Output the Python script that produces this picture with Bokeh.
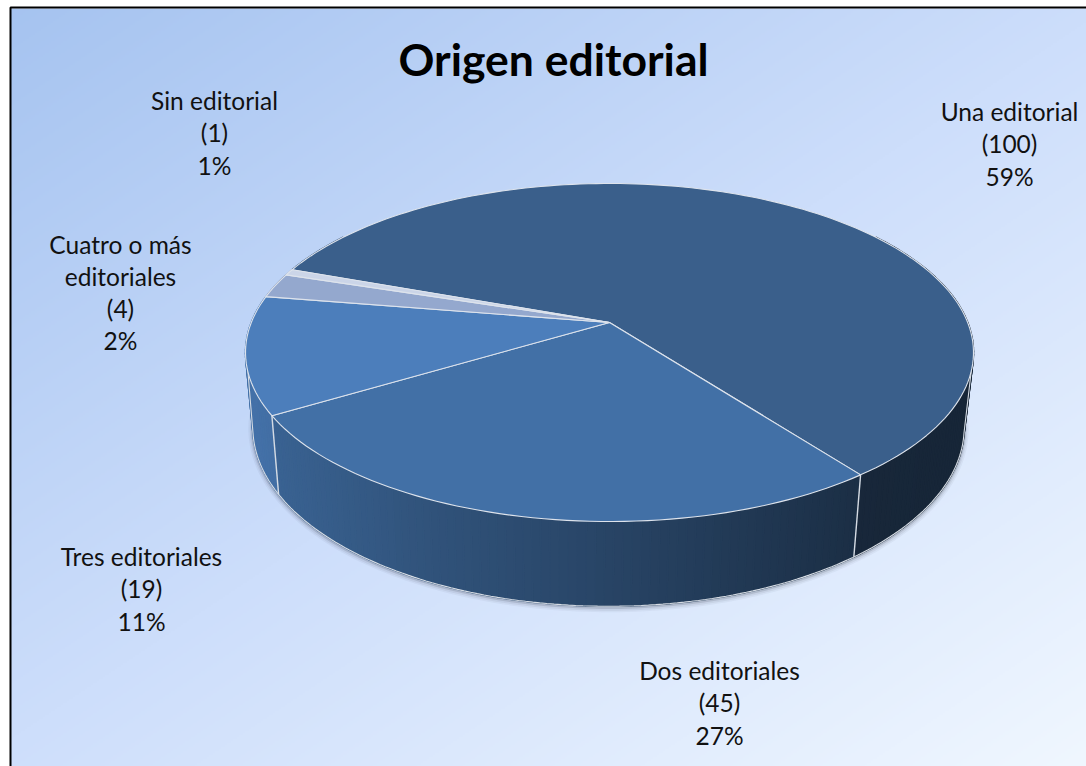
import numpy as np
from bokeh.plotting import figure
from bokeh.models import ColumnDataSource, Range1d
from bokeh.core.properties import value
from bokeh.embed import file_html
from bokeh.resources import INLINE

categories = ["Una editorial", "Dos editoriales", "Tres editoriales", "Cuatro o más editoriales", "Sin editorial"]
counts = [100, 45, 19, 4, 1]
percents = [59, 27, 11, 2, 1]
title_text = "Origen editorial"
label_lines = [["Una editorial"], ["Dos editoriales"], ["Tres editoriales"], ["Cuatro o más", "editoriales"], ["Sin editorial"]]

top_colors = ["#3A5F8B", "#4270A6", "#4C7EBB", "#94A8CE", "#CBD5E8"]

# layout, in page pixels
PAGE_W, PAGE_H = 1086, 766
label_cx = [1009, 719, 141, 120, 214]
label_y0 = [111, 670, 556, 243.5, 100]
LINE = 32.3
START = -70.0

def Y(py):
    return PAGE_H - np.asarray(py, dtype=float)

def project(theta, plane):
    X0, Y0, a, b, k = plane
    t = np.radians(theta)
    u, v = np.sin(t), np.cos(t)
    w = 1 + k * v
    return X0 + a * u / w, Y0 - b * v / w

top_plane = (609.0, 322.0, 358.2, 163.7, 0.1775)
bot_plane = (608.0, 395.4, 350.0, 173.0, 0.1775)

p = figure(width=PAGE_W, height=PAGE_H, output_backend="svg", toolbar_location=None,
           x_range=Range1d(0, PAGE_W), y_range=Range1d(0, PAGE_H),
           min_border=0, outline_line_color=None, background_fill_color="white",
           border_fill_color="white")
p.axis.visible = False
p.grid.visible = False

# background gradient
xs = np.arange(10, PAGE_W, 2) + 1.0
ys = np.arange(PAGE_H, 8, -2) - 1.0
gx, gy = np.meshgrid(xs, ys)
t = (gx + 1.5 * gy) / 2235.0
stops_t = [0, 0.5, 1]
stops = [(0xA5, 0xC3, 0xF0), (0xCD, 0xDE, 0xFB), (0xF0, 0xF7, 0xFF)]
r = np.interp(t, stops_t, [s[0] for s in stops])
g = np.interp(t, stops_t, [s[1] for s in stops])
b = np.interp(t, stops_t, [s[2] for s in stops])
img = (255 << 24 | b.astype(np.uint32) << 16 | g.astype(np.uint32) << 8 | r.astype(np.uint32)).astype(np.uint32)
p.image_rgba(image=[img], x=10, y=Y(PAGE_H), dw=PAGE_W - 10, dh=PAGE_H - 8)

# frame
p.line([10, 10, PAGE_W], list(Y([PAGE_H, 7, 7])), line_color="black", line_width=2)

# slice angles from the counts
total = sum(counts)
bounds = START + 360.0 * np.concatenate([[0], np.cumsum(counts)]) / total

def shade(hexcol, f):
    c = [int(hexcol[i:i + 2], 16) for i in (1, 3, 5)]
    return "#%02x%02x%02x" % tuple(int(min(255, x * f)) for x in c)

# soft shadow under the wall
sa = np.linspace(88, 268, 160)
sx, sy = project(sa, bot_plane)
for w, al, off in [(9, 0.05, 1.5), (6, 0.08, 1.5), (3.5, 0.16, 1)]:
    p.line(sx, Y(sy + off), line_color="#3a4048", line_alpha=al, line_width=w)

# wall pieces, every slice split into thin strips
wx, wy, wc = [], [], []
for i in range(len(counts)):
    lo, hi = bounds[i], bounds[i + 1]
    for m in (0, 360, -360):
        a0, a1 = max(lo + m, 55), min(hi + m, 305)
        if a1 <= a0:
            continue
        n = max(2, int((a1 - a0) / 1.2) + 1)
        edges = np.linspace(a0, a1, n)
        for e0, e1 in zip(edges[:-1], edges[1:]):
            aa = np.array([e0, e1])
            tx, ty = project(aa, top_plane)
            bx, by = project(aa[::-1], bot_plane)
            xm = tx.mean()
            f = np.interp(xm, [250, 430, 600, 860, 980], [0.90, 0.74, 0.62, 0.42, 0.40])
            col = shade(top_colors[i], f)
            wx.append(list(np.r_[tx, bx]))
            wy.append(list(Y(np.r_[ty, by])))
            wc.append(col)
p.patches(wx, wy, fill_color=wc, line_color=wc, line_width=1.6)

# bottom edge, silhouette edges and wall seams
ea = np.linspace(102, 258, 160)
ex, ey = project(ea, bot_plane)
sil_tx0, sil_ty0 = project(np.array([100.0]), top_plane)
sil_tx1, sil_ty1 = project(np.array([262.0]), top_plane)
edge_x = np.r_[sil_tx0, ex, sil_tx1]
edge_y = np.r_[sil_ty0, ey, sil_ty1]
p.line(edge_x, Y(edge_y), line_color="#D5DBE3", line_width=1.1)
for bd in bounds[:-1]:
    a = (bd + 360) % 360
    if 95 < a < 265:
        tx, ty = project(np.array([a]), top_plane)
        bx, by = project(np.array([a]), bot_plane)
        p.line([tx[0], bx[0]], list(Y([ty[0], by[0]])), line_color="#D5DBE3", line_width=1.4)

# top faces
for i in range(len(counts)):
    aa = np.linspace(bounds[i], bounds[i + 1], max(3, int((bounds[i + 1] - bounds[i]) / 1.5) + 1))
    ax, ay = project(aa, top_plane)
    px = np.r_[top_plane[0], ax, top_plane[0]]
    py = np.r_[top_plane[1], ay, top_plane[1]]
    p.patch(px, Y(py), fill_color=top_colors[i], line_color="#DDE3EC", line_width=1.1, line_join="round")

# texts
tx_, ty_, tt_ = [], [], []
for i in range(len(categories)):
    lines = label_lines[i] + [f"({counts[i]})", f"{percents[i]}%"]
    for j, s in enumerate(lines):
        tx_.append(label_cx[i])
        ty_.append(float(Y(label_y0[i] + j * LINE)))
        tt_.append(s)
src = ColumnDataSource(dict(x=tx_, y=ty_, text=tt_))
p.text("x", "y", text="text", source=src, text_font=value("Lato"), text_font_size="24.5px",
       text_align="center", text_baseline="middle", text_color="#111111")
p.text([553], [float(Y(57.5))], text=[title_text], text_font=value("Lato"), text_font_style="bold",
       text_font_size="44.5px", text_align="center", text_baseline="middle", text_color="black")

open("out.html", "w").write(file_html(p, INLINE))
